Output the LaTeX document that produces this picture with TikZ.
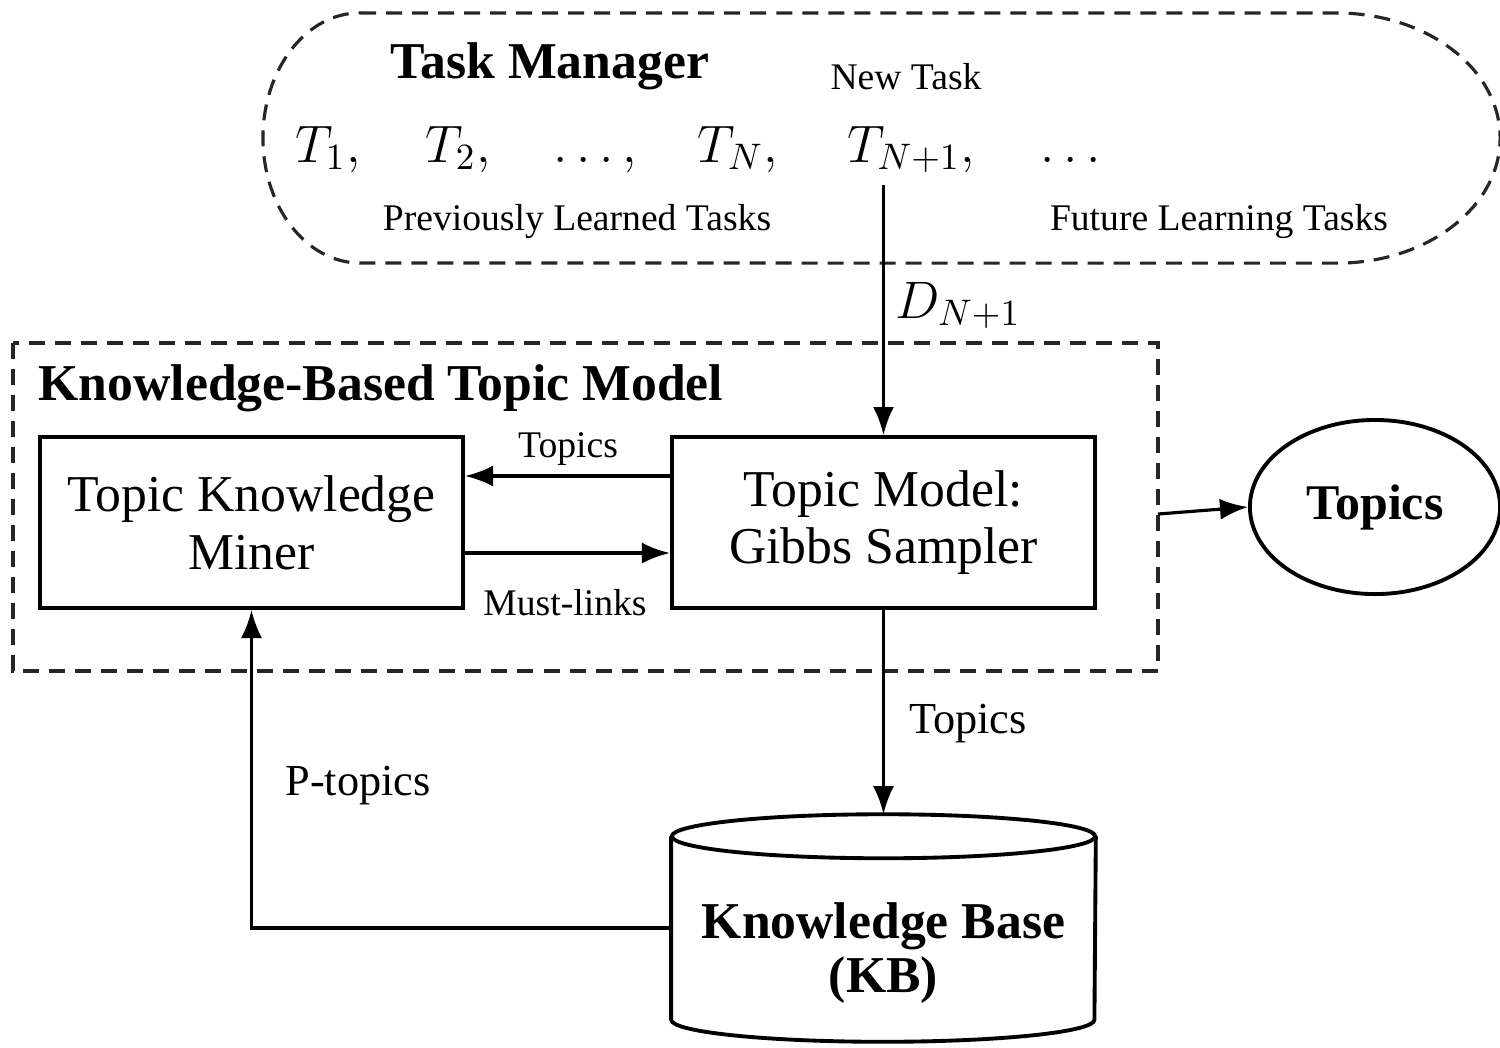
\documentclass[tikz,border=0pt]{standalone}
\usepackage{fix-cm}
\usepackage[no-math]{fontspec}
\setmainfont{Liberation Serif}
\usetikzlibrary{arrows.meta,shapes.geometric}

\tikzset{
  block/.style={draw,line width=1.1pt,minimum width=4.23cm,minimum height=1.71cm,
    align=center,font=\fontsize{14.7}{16.4}\selectfont},
  frame/.style={draw=black!85,line width=0.9pt,dash pattern=on 1.6mm off 1mm},
  arr/.style={line width=0.9pt,-{Latex[length=2.8mm,width=2.1mm]}},
  small/.style={anchor=base,font=\fontsize{10.7}{12}\selectfont},
  medium/.style={anchor=base,font=\fontsize{12.6}{14}\selectfont},
  heading/.style={anchor=base,font=\fontsize{14.7}{17}\selectfont\bfseries},
}

\begin{document}
\begin{tikzpicture}[x=0.01cm,y=-0.01cm]

      \useasboundingbox (0,0) rectangle (1500,1047);

      % task manager
      \draw[frame] (360,13) -- (1337,13)
        arc[start angle=90,end angle=-90,x radius=1.63cm,y radius=1.25cm]
        -- (360,263)
        arc[start angle=270,end angle=90,x radius=0.97cm,y radius=1.25cm] -- cycle;

      \node[heading] (tm) at (550,78) {Task Manager};
      \node[small] (new) at (906,89) {New Task};
      \node[small] (prev) at (577,230) {Previously Learned Tasks};
      \node[small] (fut) at (1219,230) {Future Learning Tasks};

      \begin{scope}[every node/.style={anchor=base,font=\fontsize{15}{17}\selectfont}]
        \node (t1)  at (328,162)  {$T_1,$};
        \node (t2)  at (458,162)  {$T_2,$};
        \node (tdots) at (595,162) {$\ldots,$};
        \node (tn)  at (738,162)  {$T_N,$};
        \node (tn1) at (911,162)  {$T_{N+1},$};
        \node (tmore) at (1071,162) {$\ldots$};
        \node (dn1) at (958,318)  {$D_{N+1}$};
      \end{scope}

      % knowledge-based topic model
      \draw[frame] (13,343) rectangle (1158,671);
      \node[heading,anchor=base west,inner sep=0pt] (kbtm) at (38,400) {Knowledge-Based Topic Model};

      \node[block] (miner) at (251.5,522.5) {Topic Knowledge\\Miner};
      \node[block] (model) at (883.5,522.5) {Topic Model:\\Gibbs Sampler};

      \node[small] (ltopics) at (568,457) {Topics};
      \node[small] (lmust)   at (565,615) {Must-links};

      \node[draw,ellipse,line width=1.1pt,minimum width=2.5cm,minimum height=1.74cm,
        font=\fontsize{14.2}{17}\selectfont\bfseries] (topics) at (1375,507) {\raisebox{-0.4ex}{Topics}};

      % knowledge base
      \node[minimum width=4.23cm,minimum height=2.26cm] (kb) at (883.5,928) {};
      \draw[line width=1.1pt] ([yshift=-0.22cm]kb.north) ellipse [x radius=2.115cm,y radius=0.22cm];
      \draw[line width=1.1pt] ([yshift=-0.22cm]kb.north west) -- ([yshift=0.22cm]kb.south west)
        arc[start angle=180,end angle=360,x radius=2.115cm,y radius=0.22cm]
        -- ([yshift=-0.22cm]kb.north east);
      \node[align=center,font=\fontsize{14.7}{15.6}\selectfont\bfseries] (kbtext) at (883.5,953)
        {Knowledge Base\\(KB)};

      \node[medium] (ldown) at (968,733) {Topics};
      \node[medium] (lp)    at (358,795) {P-topics};

      \coordinate (dstart) at (883.5,185);
      \coordinate (kbtmE) at (1158,514);

      \draw[arr] (dstart) -- (model.north);
      \draw[arr] ([yshift=0.465cm]model.west) -- ([yshift=0.465cm]miner.east);
      \draw[arr] ([yshift=-0.305cm]miner.east) -- ([yshift=-0.305cm]model.west);
      \draw[arr] (kbtmE) -- (topics.west);
      \draw[arr] (model.south) -- (kb.north);
      \draw[arr] (kb.west) -| (miner.south);

\end{tikzpicture}
\end{document}
